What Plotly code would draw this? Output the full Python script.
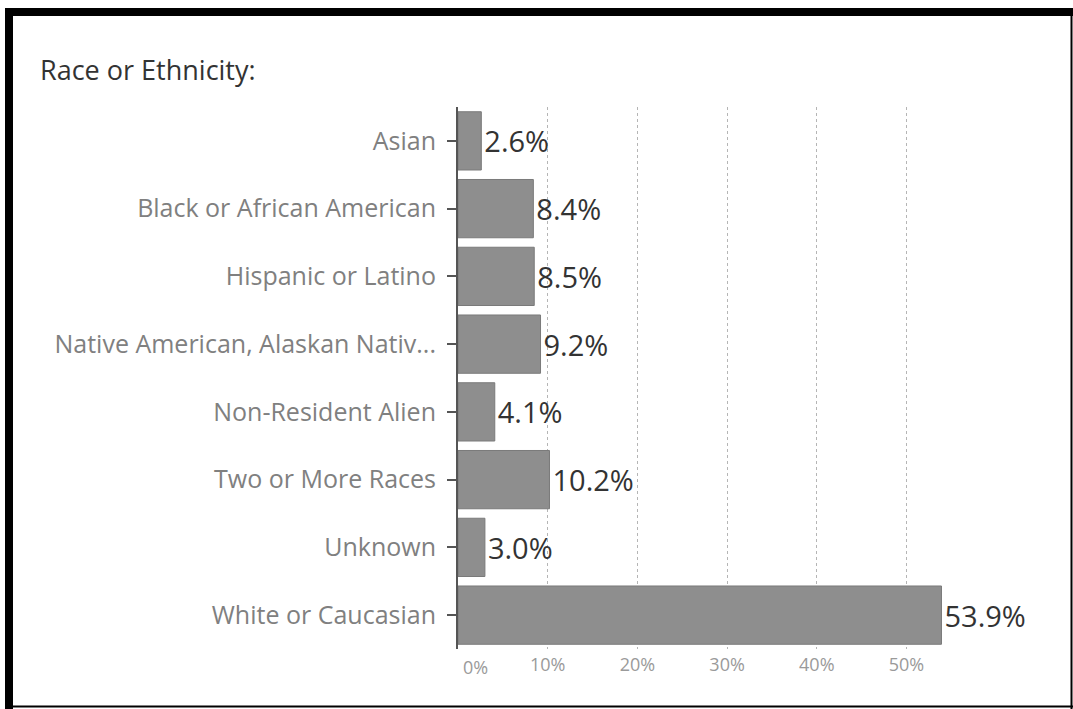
import plotly.graph_objects as go

categories = ["Asian", "Black or African American", "Hispanic or Latino",
              "Native American, Alaskan Nativ...", "Non-Resident Alien",
              "Two or More Races", "Unknown", "White or Caucasian"]
values = [2.6, 8.4, 8.5, 9.2, 4.1, 10.2, 3.0, 53.9]
tick_vals = [10, 20, 30, 40, 50]
tick_text = ["10%", "20%", "30%", "40%", "50%"]
title_text = "Race or Ethnicity:"

W, H = 1073, 709
L, R, T, B = 458, 23, 107, 60
PW, PH = W - L - R, H - T - B
FONT = "'Open Sans', sans-serif"


def px(x):
    return (x - L) / PW


def py(y):
    return (H - B - y) / PH


fig = go.Figure()
fig.add_trace(go.Bar(
    x=values, y=categories, orientation="h",
    marker=dict(color="#8e8e8e", line=dict(color="#7a7a7a", width=1)),
    text=[f"{v:.1f}%" for v in values], textposition="outside",
    textfont=dict(size=29, color="#333333", family=FONT),
    cliponaxis=False, hoverinfo="skip",
))

shapes = [
    dict(type="rect", xref="paper", yref="paper", x0=px(5), x1=px(W), y0=py(8), y1=py(16),
         fillcolor="black", line=dict(width=0), layer="above"),
    dict(type="rect", xref="paper", yref="paper", x0=px(5), x1=px(13), y0=py(8), y1=py(H),
         fillcolor="black", line=dict(width=0), layer="above"),
    dict(type="line", xref="paper", yref="paper", x0=px(5), x1=px(W), y0=py(706.5), y1=py(706.5),
         line=dict(color="black", width=2), layer="above"),
    dict(type="line", xref="paper", yref="paper", x0=px(1071.5), x1=px(1071.5), y0=py(8), y1=py(H),
         line=dict(color="black", width=2), layer="above"),
]

fig.update_layout(
    width=W, height=H,
    margin=dict(l=L, r=R, t=T, b=B),
    paper_bgcolor="white", plot_bgcolor="white",
    showlegend=False, bargap=0.14,
    font=dict(family=FONT),
    title=dict(text=title_text, xref="container", yref="container",
               x=40 / W, xanchor="left", y=1 - 71 / H, yanchor="middle",
               font=dict(size=27, color="#333333", family=FONT)),
    xaxis=dict(range=[0, 66], tickvals=tick_vals, ticktext=tick_text,
               showgrid=True, gridcolor="#b5b5b5", griddash="dot", gridwidth=1,
               zeroline=False, showline=False, ticks="", ticklabelstandoff=3,
               tickfont=dict(size=18, color="#9a9a9a", family=FONT)),
    yaxis=dict(autorange="reversed", showgrid=False, zeroline=False,
               showline=True, linecolor="#555555", linewidth=2,
               ticks="outside", ticklen=9, tickcolor="#555555", tickwidth=2,
               ticklabelstandoff=6,
               tickfont=dict(size=25, color="#808080", family=FONT)),
    shapes=shapes,
    annotations=[dict(text="0%", x=0, xref="x", y=0, yref="paper",
                      xanchor="left", yanchor="top", xshift=3, yshift=-4,
                      showarrow=False,
                      font=dict(size=18, color="#9a9a9a", family=FONT))],
)

fig.write_html("out.html")
